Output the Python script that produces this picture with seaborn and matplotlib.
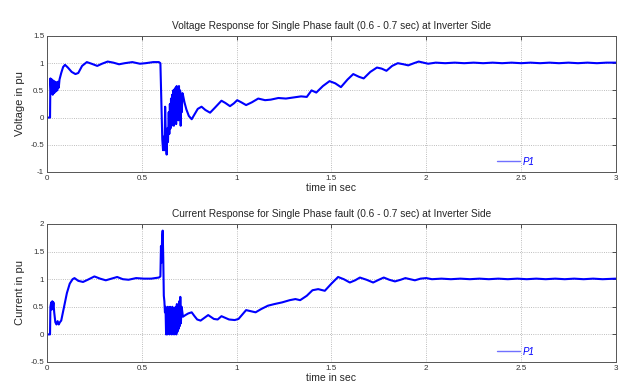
import numpy as np
import pandas as pd
import matplotlib
matplotlib.use("Agg")
import matplotlib.pyplot as plt
from matplotlib.ticker import FuncFormatter
import seaborn as sns

# ---- data ----
v_time = [0.000, 0.016, 0.018, 0.022, 0.026, 0.030, 0.034, 0.038, 0.042, 0.046,
          0.050, 0.054, 0.058, 0.062, 0.066, 0.075, 0.085, 0.095, 0.110, 0.130,
          0.150, 0.165, 0.185, 0.210, 0.235, 0.265, 0.290, 0.320, 0.350, 0.380,
          0.410, 0.450, 0.490, 0.520, 0.560, 0.590, 0.598, 0.604, 0.608, 0.612,
          0.616, 0.620, 0.623, 0.627, 0.631, 0.635, 0.638, 0.642, 0.645, 0.648,
          0.651, 0.654, 0.657, 0.660, 0.663, 0.666, 0.669, 0.672, 0.675, 0.678,
          0.681, 0.684, 0.687, 0.690, 0.693, 0.696, 0.699, 0.702, 0.705, 0.708,
          0.711, 0.714, 0.718, 0.725, 0.735, 0.748, 0.763, 0.778, 0.795, 0.815,
          0.835, 0.860, 0.885, 0.920, 0.940, 0.965, 0.985, 1.003, 1.025, 1.050,
          1.080, 1.114, 1.150, 1.180, 1.220, 1.260, 1.300, 1.340, 1.370, 1.395,
          1.420, 1.455, 1.490, 1.520, 1.550, 1.585, 1.615, 1.645, 1.670, 1.705,
          1.740, 1.765, 1.790, 1.820, 1.850, 1.880, 1.905, 1.935, 1.960, 1.985,
          2.010, 2.050, 2.100, 2.150, 2.200, 2.250, 2.300, 2.350, 2.400, 2.450,
          2.500, 2.550, 2.600, 2.650, 2.700, 2.750, 2.800, 2.850, 2.900, 2.950,
          3.000]
v_value = [0.00, 0.00, 0.72, 0.45, 0.70, 0.42, 0.68, 0.45, 0.66, 0.48,
           0.65, 0.50, 0.66, 0.55, 0.70, 0.82, 0.93, 0.97, 0.92, 0.84,
           0.80, 0.82, 0.95, 1.02, 0.99, 0.95, 0.99, 1.03, 1.01, 0.98,
           1.00, 1.02, 0.99, 1.00, 1.02, 1.02, 1.00, 0.20, -0.40, -0.60,
           -0.35, -0.60, 0.20, -0.40, -0.68, -0.20, -0.45, 0.10, -0.30, 0.25,
           -0.20, 0.35, -0.15, 0.42, -0.10, 0.50, -0.15, 0.52, -0.05, 0.55,
           -0.12, 0.58, 0.00, 0.55, -0.05, 0.58, 0.05, 0.50, -0.15, 0.40,
           0.10, 0.45, 0.40, 0.28, 0.15, 0.03, -0.03, 0.06, 0.16, 0.20,
           0.14, 0.09, 0.18, 0.31, 0.27, 0.21, 0.26, 0.32, 0.28, 0.23,
           0.28, 0.35, 0.32, 0.33, 0.36, 0.35, 0.37, 0.39, 0.38, 0.50,
           0.46, 0.58, 0.67, 0.63, 0.56, 0.70, 0.80, 0.75, 0.72, 0.84,
           0.92, 0.90, 0.86, 0.95, 1.00, 0.98, 0.96, 1.00, 1.03, 1.01,
           0.99, 1.01, 1.00, 1.01, 1.00, 1.01, 1.00, 1.01, 1.00, 1.01,
           1.00, 1.01, 1.00, 1.01, 1.00, 1.01, 1.00, 1.01, 1.00, 1.01,
           1.01]

c_time = [0.000, 0.016, 0.018, 0.022, 0.025, 0.028, 0.031, 0.034, 0.038, 0.044,
          0.050, 0.056, 0.062, 0.068, 0.075, 0.090, 0.105, 0.120, 0.135, 0.145,
          0.165, 0.190, 0.215, 0.250, 0.280, 0.310, 0.340, 0.370, 0.400, 0.430,
          0.470, 0.510, 0.550, 0.590, 0.598, 0.601, 0.604, 0.607, 0.610, 0.613,
          0.616, 0.619, 0.622, 0.625, 0.628, 0.631, 0.634, 0.637, 0.640, 0.643,
          0.646, 0.649, 0.652, 0.655, 0.658, 0.661, 0.664, 0.667, 0.670, 0.673,
          0.676, 0.679, 0.682, 0.685, 0.688, 0.691, 0.694, 0.697, 0.700, 0.703,
          0.706, 0.710, 0.717, 0.730, 0.745, 0.763, 0.778, 0.792, 0.810, 0.830,
          0.850, 0.880, 0.900, 0.920, 0.960, 0.990, 1.010, 1.030, 1.050, 1.075,
          1.100, 1.130, 1.165, 1.200, 1.240, 1.280, 1.310, 1.335, 1.370, 1.400,
          1.430, 1.465, 1.500, 1.535, 1.565, 1.597, 1.625, 1.650, 1.685, 1.720,
          1.750, 1.776, 1.805, 1.835, 1.865, 1.890, 1.915, 1.940, 1.970, 2.000,
          2.030, 2.080, 2.130, 2.180, 2.230, 2.280, 2.330, 2.380, 2.430, 2.480,
          2.530, 2.580, 2.630, 2.680, 2.730, 2.780, 2.830, 2.880, 2.930, 3.000]
c_value = [0.00, 0.00, 0.50, 0.58, 0.45, 0.60, 0.48, 0.58, 0.40, 0.22,
           0.18, 0.24, 0.18, 0.22, 0.25, 0.50, 0.75, 0.92, 1.00, 1.02,
           0.97, 0.95, 0.99, 1.05, 1.01, 0.98, 1.01, 1.04, 1.00, 0.99,
           1.02, 1.01, 1.01, 1.03, 1.05, 1.60, 1.30, 1.75, 1.88, 1.40,
           0.70, 0.60, 0.40, 0.50, 0.00, 0.45, 0.00, 0.50, 0.05, 0.45,
           0.00, 0.50, 0.05, 0.45, 0.00, 0.50, 0.05, 0.45, 0.00, 0.48,
           0.05, 0.50, 0.00, 0.55, 0.05, 0.50, 0.10, 0.60, 0.15, 0.68,
           0.20, 0.50, 0.32, 0.35, 0.38, 0.40, 0.33, 0.27, 0.25, 0.30,
           0.35, 0.28, 0.27, 0.33, 0.27, 0.26, 0.28, 0.36, 0.44, 0.42,
           0.40, 0.46, 0.52, 0.55, 0.58, 0.62, 0.64, 0.62, 0.70, 0.80,
           0.82, 0.79, 0.92, 1.04, 1.00, 0.94, 0.98, 1.03, 0.99, 0.94,
           0.99, 1.03, 0.99, 0.96, 0.99, 1.02, 1.00, 0.98, 1.01, 1.02,
           1.00, 1.01, 1.00, 1.01, 1.00, 1.01, 1.00, 1.01, 1.00, 1.01,
           1.00, 1.01, 1.00, 1.01, 1.00, 1.01, 1.00, 1.01, 1.00, 1.01]

x_ticks = [0, 0.5, 1, 1.5, 2, 2.5, 3]
v_ticks = [-1, -0.5, 0, 0.5, 1, 1.5]
c_ticks = [-0.5, 0, 0.5, 1, 1.5, 2]

titles = ["Voltage Response for Single Phase fault (0.6 - 0.7 sec) at Inverter Side",
          "Current Response for Single Phase fault (0.6 - 0.7 sec) at Inverter Side"]
ylabels = ["Voltage in pu", "Current in pu"]
xlabel = "time in sec"
legend_label = "P1"

# ---- drawing ----
sns.set_style("white")
plt.rcParams['font.family'] = ['Liberation Sans', 'DejaVu Sans']

fig = plt.figure(figsize=(6.3, 3.87), dpi=100)
ax1 = fig.add_axes([0.0746, 0.5556, 0.903, 0.3514])
ax2 = fig.add_axes([0.0746, 0.0646, 0.903, 0.3566])

df_v = pd.DataFrame({"t": v_time, "y": v_value, "s": legend_label})
df_c = pd.DataFrame({"t": c_time, "y": c_value, "s": legend_label})

fmt = FuncFormatter(lambda x, p: f"{x:g}")

for ax, df, yt, title, yl in [(ax1, df_v, v_ticks, titles[0], ylabels[0]),
                              (ax2, df_c, c_ticks, titles[1], ylabels[1])]:
    sns.lineplot(data=df, x="t", y="y", hue="s", palette=["#0000ff"], sort=False,
                 estimator=None, linewidth=1.5, ax=ax)
    ax.set_xlim(x_ticks[0], x_ticks[-1])
    ax.set_ylim(yt[0], yt[-1])
    ax.set_xticks(x_ticks)
    ax.set_yticks(yt)
    ax.xaxis.set_major_formatter(fmt)
    ax.yaxis.set_major_formatter(fmt)
    ax.grid(True, linestyle=":", color="#a8a8a8", linewidth=0.6)
    ax.tick_params(direction="in", length=3, width=0.6, labelsize=5.8,
                   top=True, right=True, pad=2, colors="#333333")
    for sp in ax.spines.values():
        sp.set_color("#555555")
        sp.set_linewidth(0.7)
    ax.set_title(title, fontsize=7.3, pad=5)
    ax.set_xlabel(xlabel, fontsize=7.5, labelpad=1)
    ax.set_ylabel(yl, fontsize=8, labelpad=4)
    leg = ax.legend(frameon=False, loc="lower left", bbox_to_anchor=(0.775, -0.025),
                    handlelength=2.4, handletextpad=0.3,
                    prop={"style": "italic", "size": 7})
    for h in leg.get_lines():
        h.set_color("#7070ff")
        h.set_linewidth(1.0)
    for txt in leg.get_texts():
        txt.set_color("#0000ff")

fig.savefig("out.png", dpi=100)
